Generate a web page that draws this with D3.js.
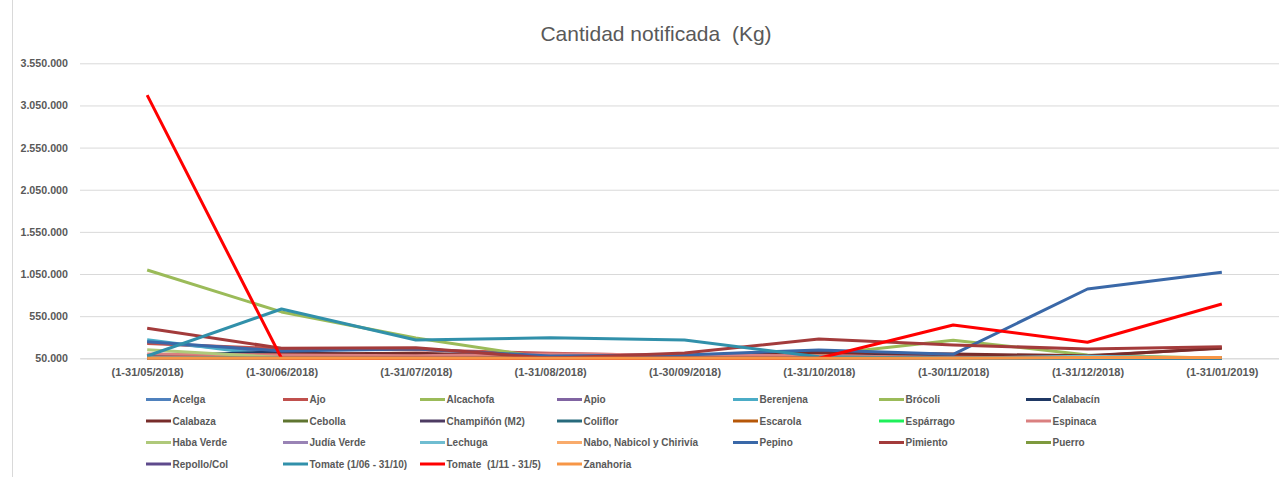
<html>
  <head>
    <meta charset="utf-8" />
    <title>Cantidad notificada (Kg)</title>
    <style>
      body { margin: 0; background: #fff; }
      text { fill: #595959; white-space: pre; }
    </style>
  </head>
  <body>
    <script src="https://cdn.jsdelivr.net/npm/d3@7/dist/d3.min.js" charset="utf-8"></script>
    <script>
      const months = ["(1-31/05/2018)", "(1-30/06/2018)", "(1-31/07/2018)", "(1-31/08/2018)",
        "(1-30/09/2018)", "(1-31/10/2018)", "(1-30/11/2018)", "(1-31/12/2018)", "(1-31/01/2019)"];
      const yTicks = [50000, 550000, 1050000, 1550000, 2050000, 2550000, 3050000, 3550000];

      const names = ["Acelga", "Ajo", "Alcachofa", "Apio", "Berenjena", "Brócoli", "Calabacín",
        "Calabaza", "Cebolla", "Champiñón (M2)", "Coliflor", "Escarola", "Espárrago", "Espinaca",
        "Haba Verde", "Judía Verde", "Lechuga", "Nabo, Nabicol y Chirivía", "Pepino", "Pimiento", "Puerro",
        "Repollo/Col", "Tomate (1/06 - 31/10)", "Tomate  (1/11 - 31/5)", "Zanahoria"];
      const colors = ["#4F81BD", "#C0504D", "#9BBB59", "#8064A2", "#4BACC6", "#9BBB59", "#1F3864",
        "#772C2A", "#5F7530", "#4D3B62", "#276A7C", "#B65708", "#1EF05A", "#DA8080",
        "#AFC97A", "#9983B5", "#6FBDD1", "#F9AB6B", "#3A68A8", "#A33B3B", "#7E9A3E",
        "#5E4A8C", "#3190AA", "#FF0000", "#F79646"];
      const values = [
        [240000, 120000, 80000, 40000, 30000, 50000, 30000, 20000, 10000],      // Acelga
        [225000, 165000, 150000, 110000, 80000, 100000, 70000, 75000, 176000],  // Ajo
        [1098000, 600000, 290000, 40000, 0, 0, 0, 0, 0],                         // Alcachofa
        [5000, 5000, 5000, 5000, 5000, 5000, 5000, 5000, 5000],                 // Apio
        [270000, 70000, 30000, 10000, 10000, 20000, 10000, 0, 0],               // Berenjena
        [0, 0, 0, 20000, 50000, 90000, 265000, 90000, 50000],                    // Brócoli
        [80000, 125000, 65000, 30000, 60000, 140000, 60000, 30000, 10000],      // Calabacín
        [60000, 100000, 110000, 70000, 80000, 120000, 100000, 80000, 170000],   // Calabaza
        [20000, 20000, 30000, 50000, 55000, 40000, 20000, 10000, 10000],        // Cebolla
        [10000, 10000, 10000, 10000, 10000, 10000, 10000, 10000, 10000],        // Champiñón
        [5000, 5000, 5000, 10000, 20000, 30000, 30000, 20000, 10000],           // Coliflor
        [10000, 0, 0, 0, 20000, 30000, 50000, 50000, 30000],                    // Escarola
        [20000, 10000, 0, 0, 0, 0, 0, 0, 5000],                                  // Espárrago
        [100000, 90000, 80000, 100000, 90000, 80000, 60000, 40000, 60000],      // Espinaca
        [150000, 60000, 20000, 0, 0, 0, 10000, 20000, 30000],                   // Haba Verde
        [5000, 10000, 10000, 5000, 5000, 5000, 0, 0, 0],                        // Judía Verde
        [60000, 40000, 20000, 10000, 10000, 20000, 30000, 75000, 0],            // Lechuga
        [10000, 0, 0, 0, 10000, 20000, 40000, 50000, 40000],                    // Nabo
        [245000, 137000, 160000, 77000, 90000, 148000, 97000, 872000, 1070000], // Pepino
        [406000, 170000, 176000, 50000, 113000, 279000, 208000, 160000, 188000],// Pimiento
        [20000, 10000, 10000, 20000, 30000, 40000, 40000, 30000, 20000],        // Puerro
        [5000, 5000, 5000, 5000, 10000, 15000, 20000, 20000, 15000],            // Repollo/Col
        [77000, 635000, 267000, 294000, 267000, 69000, 0, 0, 0],                // Tomate 1/06-31/10
        [3172000, 0, 0, 0, 0, 0, 445000, 240000, 694000],                       // Tomate 1/11-31/5
        [20000, 20000, 20000, 30000, 40000, 40000, 50000, 60000, 60000]         // Zanahoria
      ];

      const width = 1279;
      const height = 477;
      const plotLeft = 80, plotRight = 1289, plotTop = 63.3, plotBottom = 358.3;
      const font = "'Liberation Sans', Arial, sans-serif";

      let svg = d3.select("body").append("svg")
        .attr("width", width)
        .attr("height", height)
        .style("font-family", font);

      // chart border on the left
      svg.append("line")
        .attr("x1", 12.5).attr("x2", 12.5).attr("y1", 0).attr("y2", height)
        .attr("stroke", "#D9D9D9");

      svg.append("text")
        .attr("x", 656).attr("y", 41)
        .attr("text-anchor", "middle")
        .style("font-size", "21px")
        .text("Cantidad notificada  (Kg)");

      let x = d3.scalePoint().domain(months).range([plotLeft, plotRight]).padding(0.5);
      let y = d3.scaleLinear().domain([50000, 3550000]).range([plotBottom, plotTop]).clamp(true);

      const loc = d3.formatLocale({ decimal: ",", thousands: ".", grouping: [3], currency: ["", ""] });
      const fmt = loc.format(",d");

      let yAxis = svg.append("g")
        .attr("transform", `translate(${plotLeft},0)`)
        .call(d3.axisLeft(y).tickValues(yTicks).tickFormat(fmt)
          .tickSize(-(plotRight - plotLeft)).tickPadding(12))
        .attr("font-family", font);
      yAxis.select(".domain").remove();
      yAxis.selectAll(".tick line").attr("stroke", "#D9D9D9");
      yAxis.selectAll(".tick text")
        .style("font-size", "10.7px").style("font-weight", "bold").attr("fill", "#595959");

      let xAxis = svg.append("g")
        .attr("transform", `translate(0,${plotBottom})`)
        .call(d3.axisBottom(x).tickSize(0).tickPadding(10))
        .attr("font-family", font);
      xAxis.select(".domain").attr("stroke", "#D9D9D9");
      xAxis.selectAll(".tick text")
        .style("font-size", "11px").style("font-weight", "bold").attr("fill", "#595959");

      let line = d3.line().x((d, i) => x(months[i])).y(d => y(d));

      svg.append("g").selectAll("path")
        .data(values)
        .join("path")
        .attr("d", d => line(d))
        .attr("fill", "none")
        .attr("stroke", (d, i) => colors[i])
        .attr("stroke-width", 3)
        .attr("stroke-linejoin", "round");

      // legend, 7 per row
      const colX = [146, 283, 420, 557, 733, 879, 1026];
      const rowY = [399.5, 421, 442.5, 464];
      let legend = svg.append("g").selectAll("g")
        .data(names)
        .join("g")
        .attr("transform", (d, i) => `translate(${colX[i % 7]},${rowY[Math.floor(i / 7)]})`);
      legend.append("line")
        .attr("x1", 0).attr("x2", 25)
        .attr("stroke", (d, i) => colors[i])
        .attr("stroke-width", 3);
      legend.append("text")
        .attr("x", 26.5).attr("dy", "0.35em")
        .style("font-size", "10px").style("font-weight", "bold")
        .text(d => d);
    </script>
  </body>
</html>
